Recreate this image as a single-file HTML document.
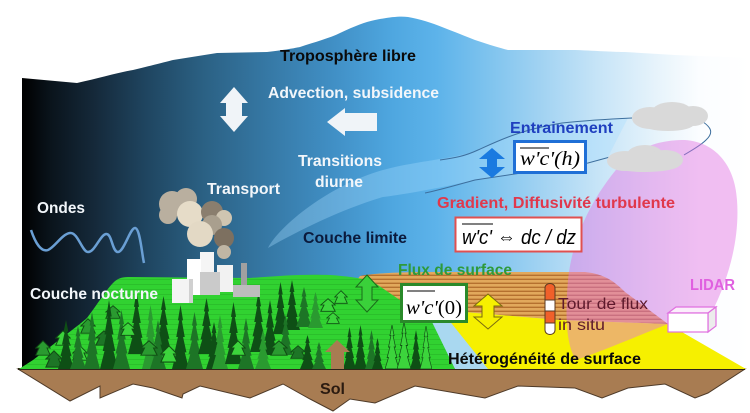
<!DOCTYPE html>
<html><head><meta charset="utf-8">
<style>
html,body{margin:0;padding:0;background:#fff;}
svg{display:block;}
</style></head>
<body>
<svg width="750" height="413" viewBox="0 0 750 413" xmlns="http://www.w3.org/2000/svg">
<defs>
<linearGradient id="sky" gradientUnits="userSpaceOnUse" x1="22" y1="0" x2="750" y2="0">
<stop offset="0" stop-color="#000000"/>
<stop offset="0.04" stop-color="#0a141c"/>
<stop offset="0.10" stop-color="#15293a"/>
<stop offset="0.17" stop-color="#1f4560"/>
<stop offset="0.25" stop-color="#2b6184"/>
<stop offset="0.34" stop-color="#3679a6"/>
<stop offset="0.43" stop-color="#4190c6"/>
<stop offset="0.51" stop-color="#4fa7e0"/>
<stop offset="0.57" stop-color="#5db3ea"/>
<stop offset="0.64" stop-color="#7ec3ee"/>
<stop offset="0.71" stop-color="#a0d2f2"/>
<stop offset="0.79" stop-color="#c6e4f7"/>
<stop offset="0.87" stop-color="#e6f3fb"/>
<stop offset="0.93" stop-color="#fbfdff"/>
<stop offset="1" stop-color="#ffffff"/>
</linearGradient>
<pattern id="st" width="6" height="4" patternUnits="userSpaceOnUse">
<rect width="6" height="4" fill="#e2a85c"/>
<rect y="2.6" width="6" height="1.4" fill="#b5702f"/>
</pattern>
<pattern id="hl" width="6" height="5" patternUnits="userSpaceOnUse">
<rect width="6" height="5" fill="#31d231"/>
<rect y="4" width="6" height="1" fill="#2bc02b"/>
</pattern>
<symbol id="tr" viewBox="0 0 20 50" preserveAspectRatio="none">
<polygon points="10,0 13,12 11.5,12 15,25 13,25 17,37 15,37 20,50 0,50 5,37 3,37 7,25 5,25 8.5,12 7,12"/>
</symbol>
<symbol id="tri" viewBox="0 0 20 20" preserveAspectRatio="none">
<polygon points="10,1 19,10 15,10 19,19 1,19 5,10 1,10" stroke="#114d14" stroke-width="1.2"/>
</symbol>
</defs>

<!-- sky -->
<path d="M22,78 L77,83 C100,78 120,72 133,70 C150,66 165,62 173,60 L217,53 L267,52 C285,50 295,48 300,47 C315,42 330,38 340,33 C355,26 365,22 375,20 C390,17 400,16 408,17 C420,19 432,23 442,27 C455,32 465,36 475,40 C490,45 500,48 508,50 L575,50 C600,51 615,52 625,52 L675,55 L750,58 L750,369 L22,369 Z" fill="url(#sky)"/>

<!-- boundary layer band -->
<path d="M268,248 C280,225 330,185 383,170 C420,160 450,160 478,150 C500,140 520,130 562,123 L628,118 L608,157 C580,165 530,172 475,180 C430,190 400,195 383,197 C340,210 300,230 268,248 Z" fill="#a6dcff" fill-opacity="0.35"/>
<path d="M440,160 C455,158 465,156 478,150 C500,140 520,130 562,123 C590,120 610,119 632,118" fill="none" stroke="#3d6f9e" stroke-width="1"/>
<path d="M425,193 C440,190 460,184 475,180 C500,176 530,172 588,163 L610,157" fill="none" stroke="#3d6f9e" stroke-width="1"/>
<path d="M700,120 C710,126 715,132 706,140 C700,146 692,150 684,155" fill="none" stroke="#3d6f9e" stroke-width="1"/>

<!-- soil -->
<path d="M18,369 L745,369 L708,393 L695,398 L665,384 L628,388 L602,398 L575,388 L518,386 L485,398 L415,386 L375,403 L350,399 L333,411 L310,399 L283,384 L250,398 L200,386 L183,394 L182,398 L153,388 L133,384 L100,398 L100,386 L70,401 Z" fill="#a87c52" stroke="#4e3a28" stroke-width="1"/>
<line x1="18" y1="369" x2="745" y2="369" stroke="#2e2418" stroke-width="2"/>

<!-- stripes, yellow, river -->
<path d="M350,290 L360,276 C380,272 420,272 440,272 L585,272 C605,274 615,282 625,292 L668,324 L560,320 L440,310 L420,330 Z" fill="url(#st)"/>
<path d="M440,310 L560,320 L668,324 L746,369 L480,369 L445,316 Z" fill="#f6f000"/>
<path d="M428,322 L444,314 L488,369 L455,369 Z" fill="#a9d8f0"/>

<!-- hill -->
<path d="M19,369 L33,360 L50,347 C65,335 78,326 87,318 C97,305 106,290 113,283 C118,278 122,277 130,277 L250,278 C280,276 300,274 330,275 C345,276 360,278 372,281 L432,322 L455,369 Z" fill="url(#hl)"/>

<!-- trees -->
<g>
<use href="#tri" x="35" y="340" width="16" height="16" fill="#2a9a30"/>
<use href="#tri" x="45" y="350" width="18" height="18" fill="#1d7526"/>
<use href="#tri" x="55" y="330" width="16" height="16" fill="#3cd43c"/>
<use href="#tri" x="80" y="318" width="16" height="16" fill="#2a9a30"/>
<use href="#tri" x="95" y="330" width="18" height="16" fill="#1d7526"/>
<use href="#tri" x="72" y="345" width="16" height="16" fill="#3cd43c"/>
<use href="#tri" x="105" y="305" width="16" height="14" fill="#2a9a30"/>
<use href="#tr" x="58" y="320" width="16" height="49" fill="#0e4f15"/>
<use href="#tr" x="70" y="326" width="16" height="43" fill="#1d7526"/>
<use href="#tr" x="84" y="312" width="16" height="57" fill="#1d7526"/>
<use href="#tr" x="100" y="300" width="18" height="69" fill="#0e4f15"/>
<use href="#tr" x="113" y="310" width="17" height="59" fill="#1d7526"/>
<use href="#tr" x="128" y="292" width="17" height="62" fill="#0e4f15"/>
<use href="#tr" x="142" y="305" width="17" height="64" fill="#2a9a30"/>
<use href="#tr" x="155" y="296" width="17" height="58" fill="#0e4f15"/>
<use href="#tr" x="150" y="320" width="16" height="49" fill="#1d7526"/>
<use href="#tri" x="120" y="322" width="16" height="14" fill="#3cd43c"/>
<use href="#tri" x="140" y="340" width="18" height="16" fill="#2a9a30"/>
<use href="#tr" x="172" y="305" width="17" height="64" fill="#0e4f15"/>
<use href="#tr" x="186" y="312" width="17" height="57" fill="#1d7526"/>
<use href="#tr" x="198" y="298" width="17" height="56" fill="#0e4f15"/>
<use href="#tr" x="206" y="322" width="16" height="47" fill="#0e4f15"/>
<use href="#tr" x="212" y="315" width="16" height="54" fill="#2a9a30"/>
<use href="#tr" x="225" y="302" width="17" height="62" fill="#0e4f15"/>
<use href="#tr" x="238" y="318" width="16" height="51" fill="#1d7526"/>
<use href="#tri" x="160" y="345" width="18" height="18" fill="#3cd43c"/>
<use href="#tri" x="230" y="340" width="16" height="16" fill="#3cd43c"/>
<use href="#tr" x="250" y="292" width="17" height="60" fill="#0e4f15"/>
<use href="#tr" x="262" y="300" width="16" height="55" fill="#0e4f15"/>
<use href="#tr" x="273" y="282" width="15" height="52" fill="#0e4f15"/>
<use href="#tr" x="284" y="280" width="16" height="50" fill="#0e4f15"/>
<use href="#tr" x="296" y="287" width="16" height="40" fill="#1d7526"/>
<use href="#tr" x="308" y="292" width="15" height="36" fill="#2a9a30"/>
<use href="#tr" x="278" y="315" width="15" height="40" fill="#1d7526"/>
<use href="#tri" x="320" y="298" width="16" height="14" fill="#3cd43c"/>
<use href="#tri" x="334" y="290" width="14" height="14" fill="#3cd43c"/>
<use href="#tri" x="326" y="312" width="14" height="12" fill="#3cd43c"/>
<use href="#tr" x="255" y="330" width="16" height="39" fill="#2a9a30"/>
<use href="#tri" x="270" y="340" width="18" height="16" fill="#2a9a30"/>
<use href="#tri" x="290" y="345" width="16" height="14" fill="#1d7526"/>
<use href="#tr" x="300" y="335" width="15" height="34" fill="#0e4f15"/>
<use href="#tr" x="312" y="342" width="14" height="27" fill="#1d7526"/>
<use href="#tr" x="343" y="327" width="13" height="42" fill="#0e4f15"/>
<use href="#tr" x="354" y="325" width="13" height="44" fill="#0e4f15"/>
<use href="#tr" x="365" y="330" width="13" height="39" fill="#1d7526"/>
<use href="#tr" x="372" y="338" width="11" height="31" fill="#0e4f15"/>
<use href="#tr" x="385" y="325" width="14" height="44" fill="#3cd43c" stroke="#114d14" stroke-width="1"/>
<use href="#tr" x="397" y="322" width="14" height="47" fill="#3cd43c" stroke="#114d14" stroke-width="1"/>
<use href="#tr" x="410" y="330" width="12" height="39" fill="#0e4f15"/>
<use href="#tr" x="420" y="326" width="12" height="43" fill="#3cd43c" stroke="#114d14" stroke-width="1"/>
</g>

<!-- brown up arrow -->
<polygon points="337,340 350,352 344,352 344,369 331,369 331,352 325,352" fill="#a87c52"/>

<!-- smoke -->
<g>
<circle cx="172" cy="204" r="13" fill="#b9af9f"/>
<circle cx="186" cy="199" r="11" fill="#b9af9f"/>
<circle cx="168" cy="215" r="9" fill="#b9af9f"/>
<circle cx="190" cy="214" r="13" fill="#e6dcc8"/>
<circle cx="212" cy="212" r="11" fill="#8a7e6e"/>
<circle cx="224" cy="218" r="8" fill="#cfc5b1"/>
<circle cx="212" cy="225" r="10" fill="#a99f8e"/>
<circle cx="200" cy="234" r="13" fill="#e3d9c5"/>
<circle cx="224" cy="238" r="10" fill="#7d7060"/>
<circle cx="224" cy="252" r="7" fill="#c0b6a4"/>
</g>

<!-- factory -->
<g>
<rect x="200" y="252" width="14" height="28" fill="#f5f5f5"/>
<rect x="187" y="259" width="14" height="36" fill="#ffffff"/>
<rect x="217" y="265" width="16" height="27" fill="#f2f2f2"/>
<rect x="200" y="272" width="20" height="23" fill="#cacaca"/>
<rect x="172" y="279" width="18" height="24" fill="#f4f4f4"/>
<rect x="189" y="279" width="4" height="24" fill="#d0d0d0"/>
<rect x="241" y="263" width="6" height="25" fill="#a0a0a0"/>
<rect x="233" y="285" width="27" height="12" fill="#bdbdbd"/>
</g>

<!-- pink LIDAR beam -->
<path d="M668,324 C640,335 605,350 576,360 C566,345 565,315 568,280 C572,240 590,200 620,165 C640,146 660,140 685,140 C715,142 735,165 737,200 C740,240 728,280 712,312 Z" fill="#e270e2" fill-opacity="0.45"/>

<!-- clouds -->
<g fill="#d9d9d9">
<ellipse cx="650" cy="118" rx="18" ry="11"/>
<ellipse cx="672" cy="112" rx="20" ry="10"/>
<ellipse cx="693" cy="116" rx="15" ry="10"/>
<ellipse cx="668" cy="124" rx="26" ry="7"/>
<ellipse cx="625" cy="161" rx="18" ry="10"/>
<ellipse cx="645" cy="155" rx="18" ry="10"/>
<ellipse cx="665" cy="160" rx="18" ry="10"/>
<ellipse cx="645" cy="166" rx="32" ry="6"/>
</g>

<!-- LIDAR box -->
<polygon points="668,313 676,307 716,307 708,313" fill="#fbeefb" stroke="#e070e0" stroke-width="1.2"/>
<polygon points="708,313 716,307 716,326 708,332" fill="#ececec" stroke="#e070e0" stroke-width="1.2"/>
<rect x="668" y="313" width="40" height="19" fill="#ffffff" stroke="#e070e0" stroke-width="1.2"/>

<!-- tower -->
<g stroke="#5a3a20" stroke-width="1">
<path d="M545,288 C545,282 555,282 555,288 L555,300 L545,300 Z" fill="#f0602a"/>
<rect x="545" y="300" width="10" height="11" fill="#ffffff"/>
<rect x="545" y="311" width="10" height="12" fill="#f0602a"/>
<path d="M545,323 L555,323 L555,330 C555,336 545,336 545,330 Z" fill="#ffffff"/>
</g>

<!-- white arrows -->
<polygon points="234,87 248,103 242,103 242,116 248,116 234,132 220,116 226,116 226,103 220,103" fill="#f0f4f8"/>
<polygon points="327,122 345,108 345,113 377,113 377,131 345,131 345,136" fill="#f0f4f8"/>

<!-- blue double arrow -->
<polygon points="492,148 505,159 497,159 497,167 505,167 492,178 479,167 487,167 487,159 479,159" fill="#1a7ae0"/>

<!-- green double arrow -->
<polygon points="367,275 378,287 372,287 372,300 378,300 367,312 356,300 362,300 362,287 356,287" fill="#3ad03a" stroke="#1a6a1a" stroke-width="1"/>

<!-- yellow double arrow -->
<polygon points="488,294 502,306 494,306 494,317 502,317 488,329 474,317 482,317 482,306 474,306" fill="#f6f000" stroke="#7a6a10" stroke-width="1"/>

<!-- wave -->
<path d="M31,230 C36,245 42,252 48,250 C55,247 62,234 70,233 C78,232 82,252 88,252 C95,252 100,235 106,234 C112,233 112,252 118,252 C124,252 130,228 135,228 C140,228 142,255 144,263" fill="none" stroke="#6a9fd4" stroke-width="2.5"/>

<!-- math boxes -->
<rect x="514.5" y="141.5" width="71" height="31" fill="#ffffff" stroke="#1f6fd6" stroke-width="3"/>
<line x1="520" y1="148" x2="549" y2="148" stroke="#000" stroke-width="1"/>
<text x="520" y="165" font-family="'Liberation Serif', serif" font-style="italic" font-size="20" textLength="60" lengthAdjust="spacingAndGlyphs" fill="#000">w'c'(h)</text>

<rect x="455.5" y="217.5" width="126" height="34" fill="#ffffff" stroke="#e05050" stroke-width="2"/>
<line x1="462" y1="224" x2="493" y2="224" stroke="#000" stroke-width="1"/>
<text x="462" y="244" font-family="'Liberation Sans', 'DejaVu Sans', sans-serif" font-style="italic" font-size="20" textLength="114" lengthAdjust="spacingAndGlyphs" fill="#000">w'c' ⇔ dc / dz</text>

<rect x="401.5" y="284.5" width="65" height="37" fill="#ffffff" stroke="#2a8a2a" stroke-width="3"/>
<line x1="407" y1="291" x2="435" y2="291" stroke="#000" stroke-width="1"/>
<text x="406" y="314" font-family="'Liberation Serif', serif" font-size="20" textLength="56" lengthAdjust="spacingAndGlyphs" fill="#000"><tspan font-style="italic">w'c'</tspan>(0)</text>

<!-- labels -->
<g font-family="'Liberation Sans', sans-serif" font-weight="bold" font-size="16">
<text x="280" y="61" textLength="136" lengthAdjust="spacingAndGlyphs" fill="#0a0a0a">Troposphère libre</text>
<text x="268" y="98" textLength="171" lengthAdjust="spacingAndGlyphs" fill="#f2f6fa">Advection, subsidence</text>
<text x="298" y="166" textLength="84" lengthAdjust="spacingAndGlyphs" fill="#f2f6fa">Transitions</text>
<text x="315" y="187" textLength="48" lengthAdjust="spacingAndGlyphs" fill="#f2f6fa">diurne</text>
<text x="207" y="194" textLength="73" lengthAdjust="spacingAndGlyphs" fill="#f2f6fa">Transport</text>
<text x="37" y="213" textLength="48" lengthAdjust="spacingAndGlyphs" fill="#f2f6fa">Ondes</text>
<text x="30" y="299" textLength="128" lengthAdjust="spacingAndGlyphs" fill="#f2f6fa">Couche nocturne</text>
<text x="303" y="243" textLength="104" lengthAdjust="spacingAndGlyphs" fill="#0b1a3c">Couche limite</text>
<text x="510" y="133" textLength="103" lengthAdjust="spacingAndGlyphs" fill="#1f3fbf">Entrainement</text>
<text x="437" y="208" textLength="238" lengthAdjust="spacingAndGlyphs" fill="#e0384c">Gradient, Diffusivité turbulente</text>
<text x="398" y="275" textLength="114" lengthAdjust="spacingAndGlyphs" fill="#2e9a3a">Flux de surface</text>
<text x="448" y="364" textLength="193" lengthAdjust="spacingAndGlyphs" fill="#0a0a0a">Hétérogénéité de surface</text>
<text x="690" y="290" textLength="45" lengthAdjust="spacingAndGlyphs" fill="#e060e0">LIDAR</text>
<text x="320" y="394" textLength="25" lengthAdjust="spacingAndGlyphs" fill="#2a1a10">Sol</text>
</g>
<g font-family="'Liberation Sans', sans-serif" font-size="16" fill="#5e1a2c">
<text x="558" y="309" textLength="90" lengthAdjust="spacingAndGlyphs">Tour de flux</text>
<text x="558" y="330" textLength="47" lengthAdjust="spacingAndGlyphs">in situ</text>
</g>
</svg>
</body></html>
